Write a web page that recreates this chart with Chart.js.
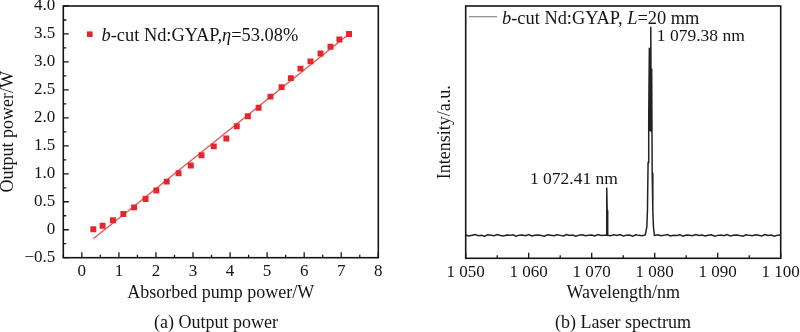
<!DOCTYPE html>
<html>
<head>
<meta charset="utf-8">
<script src="https://cdn.jsdelivr.net/npm/chart.js@4"></script>
<style>
  html, body { margin: 0; padding: 0; background: #fff; }
  #wrap { position: relative; width: 800px; height: 332px; overflow: hidden; }
  canvas { position: absolute; top: 0; }
</style>
</head>
<body>
<div id="wrap">
  <canvas id="ca" width="400" height="332" style="left:0"></canvas>
  <canvas id="cb" width="400" height="332" style="left:400px"></canvas>
</div>
<script>
// ---------- Data: (a) Output power ----------
const pumpPower   = [0.31,0.56,0.84,1.12,1.41,1.72,2.01,2.29,2.61,2.94,3.23,3.56,3.90,4.18,4.48,4.77,5.09,5.39,5.64,5.90,6.17,6.44,6.71,6.95,7.21];
const outputPower = [0.01,0.07,0.17,0.28,0.40,0.55,0.70,0.86,1.01,1.15,1.33,1.49,1.63,1.85,2.03,2.18,2.38,2.55,2.71,2.88,3.01,3.15,3.27,3.40,3.50];
const fitX = [0.31, 7.21];
const fitY = [-0.16, 3.50];
const xTicksA = [0,1,2,3,4,5,6,7,8];
const xTickLabelsA = ['0','1','2','3','4','5','6','7','8'];
const yTicksA = [-0.5,0,0.5,1,1.5,2,2.5,3,3.5,4];
const yTickLabelsA = ['\u22120.5','0','0.5','1.0','1.5','2.0','2.5','3.0','3.5','4.0'];
const xMinorA = [-0.5,0.5,1.5,2.5,3.5,4.5,5.5,6.5,7.5];
const yMinorA = [-0.25,0.25,0.75,1.25,1.75,2.25,2.75,3.25,3.75];

// ---------- Data: (b) Laser spectrum ----------
const wavelength = [
  1050,1050.5,1051,1051.5,1052,1052.5,1053,1053.5,1054,1054.5,1055,1055.5,1056,1056.5,1057,1057.5,1058,1058.5,1059,1059.5,
  1060,1060.5,1061,1061.5,1062,1062.5,1063,1063.5,1064,1064.5,1065,1065.5,1066,1066.5,1067,1067.5,1068,1068.5,1069,1069.5,
  1070,1070.5,1071,1071.5,1072,
  1072.30,1072.36,1072.41,1072.45,1072.50,1072.58,
  1073,1073.5,1074,1074.5,1075,1075.5,1076,1076.5,1077,1077.5,1078,1078.5,
  1078.75,1078.85,1078.95,1079.05,1079.15,1079.22,1079.30,1079.38,1079.44,1079.52,1079.60,1079.70,1079.80,1079.95,
  1080.5,1081,1081.5,1082,1082.5,1083,1083.5,1084,1084.5,1085,1085.5,1086,1086.5,1087,1087.5,1088,1088.5,1089,1089.5,1090,
  1090.5,1091,1091.5,1092,1092.5,1093,1093.5,1094,1094.5,1095,1095.5,1096,1096.5,1097,1097.5,1098,1098.5,1099,1099.5,1100];
const intensity = [
  0.002,-0.003,0.001,0.004,-0.002,0.000,-0.004,0.003,0.001,-0.002,0.004,-0.001,-0.003,0.002,0.000,0.003,-0.004,0.001,0.002,-0.002,
  0.004,-0.003,0.000,0.002,-0.001,-0.004,0.003,0.001,-0.002,0.003,0.000,-0.003,0.004,-0.001,0.002,-0.004,0.001,0.003,-0.002,0.000,
  0.002,-0.003,0.004,-0.001,0.001,
  0.000,0.060,0.230,0.120,0.030,0.000,
  -0.002,0.003,-0.001,0.004,-0.003,0.001,0.002,-0.004,0.003,0.000,-0.002,0.002,
  0.040,0.120,0.350,0.550,0.900,0.500,0.550,1.000,0.500,0.800,0.300,0.120,0.040,0.000,
  0.003,-0.002,0.000,0.004,-0.003,0.001,-0.001,0.003,-0.004,0.002,0.000,-0.002,0.004,-0.001,0.002,-0.003,0.001,0.003,-0.004,0.000,
  0.002,-0.002,0.004,-0.003,0.001,0.002,-0.001,-0.004,0.003,0.000,-0.002,0.003,0.001,-0.003,0.004,-0.001,0.002,-0.004,0.001,0.002];
const xTicksB = [1050,1060,1070,1080,1090,1100];
const xTickLabelsB = ['1 050','1 060','1 070','1 080','1 090','1 100'];
const xMinorB = [1055,1065,1075,1085,1095];
const peakLabels = [
  {wl: 1079.38, text: '1 079.38 nm'},
  {wl: 1072.41, text: '1 072.41 nm'}
];

// ---------- Styling ----------
const SERIF = '"Liberation Serif", "Times New Roman", serif';
const INK = '#151515';
const tickFont = {family: SERIF, size: 17, lineHeight: 1.2};
const titleFont = {family: SERIF, size: 18, lineHeight: 1.2};

function drawRich(ctx, x, y, parts, size) {
  let cx = x;
  parts.forEach(p => {
    ctx.font = (p.i ? 'italic ' : '') + size + 'px ' + SERIF;
    ctx.fillText(p.t, cx, y);
    cx += ctx.measureText(p.t).width;
  });
}

const framePlugin = {
  id: 'frame',
  afterDatasetsDraw(chart, args, o) {
    const {ctx, chartArea: a} = chart;
    const xs = chart.scales.x, ys = chart.scales.y;
    ctx.save();
    ctx.strokeStyle = INK;
    ctx.lineWidth = 1.3;
    ctx.beginPath();
    const tick = (x1, y1, x2, y2) => { ctx.moveTo(x1, y1); ctx.lineTo(x2, y2); };
    (o.xMajor || []).forEach(v => { const p = xs.getPixelForValue(v); tick(p, a.bottom, p, a.bottom - 5.5); });
    (o.xMinor || []).forEach(v => { const p = xs.getPixelForValue(v); tick(p, a.bottom, p, a.bottom - 3); });
    (o.yMajor || []).forEach(v => { const p = ys.getPixelForValue(v); tick(a.left, p, a.left + 5.5, p); });
    (o.yMinor || []).forEach(v => { const p = ys.getPixelForValue(v); tick(a.left, p, a.left + 3, p); });
    ctx.stroke();
    ctx.lineWidth = 1.6;
    ctx.strokeRect(a.left, a.top, a.right - a.left, a.bottom - a.top);
    ctx.restore();
  },
  afterDraw(chart, args, o) {
    const {ctx} = chart;
    ctx.save();
    ctx.fillStyle = INK;
    ctx.textBaseline = 'alphabetic';
    if (o.caption) {
      ctx.font = '18px ' + SERIF;
      ctx.textAlign = 'center';
      ctx.fillText(o.caption.text, o.caption.x, o.caption.y);
    }
    ctx.textAlign = 'left';
    if (o.legend) {
      const L = o.legend;
      if (L.marker === 'rect') {
        ctx.fillStyle = L.color;
        ctx.fillRect(L.mx - 2.8, L.my - 2.8, 5.6, 5.6);
      } else {
        ctx.strokeStyle = L.color; ctx.lineWidth = 1.2;
        ctx.beginPath(); ctx.moveTo(L.mx - 14, L.my); ctx.lineTo(L.mx + 14, L.my); ctx.stroke();
      }
      ctx.fillStyle = INK;
      drawRich(ctx, L.tx, L.ty, L.parts, 18.4);
    }
    if (o.peaks) {
      ctx.font = '17.5px ' + SERIF;
      o.peaks.forEach(p => {
        const px = chart.scales.x.getPixelForValue(p.wl);
        ctx.textAlign = p.align;
        ctx.fillText(p.text, px + p.dx, p.y);
      });
    }
    ctx.restore();
  }
};

// ---------- Chart (a) ----------
new Chart(document.getElementById('ca'), {
  type: 'scatter',
  data: {
    datasets: [
      {
        type: 'line',
        data: fitX.map((x, i) => ({x, y: fitY[i]})),
        borderColor: '#e25454', borderWidth: 1.3, pointRadius: 0, fill: false, order: 2
      },
      {
        data: pumpPower.map((x, i) => ({x, y: outputPower[i]})),
        pointStyle: 'rect', pointRadius: 4.2, pointBackgroundColor: '#e5262c', pointBorderWidth: 0,
        backgroundColor: '#e5262c', borderWidth: 0, order: 1
      }
    ]
  },
  options: {
    responsive: false, animation: false, devicePixelRatio: 1,
    layout: {padding: {left: 0, top: 6, right: 21.7, bottom: 0}},
    plugins: {
      legend: {display: false}, tooltip: {enabled: false},
      frame: {
        xMajor: xTicksA, xMinor: xMinorA, yMajor: yTicksA, yMinor: yMinorA,
        caption: {text: '(a) Output power', x: 216, y: 328},
        legend: {marker: 'rect', color: '#e5262c', mx: 89.8, my: 34.2, tx: 101.5, ty: 40.5,
          parts: [{t: 'b', i: true}, {t: '-cut Nd:GYAP,'}, {t: '\u03b7', i: true}, {t: '=53.08%'}]}
      }
    },
    scales: {
      x: {
        type: 'linear', min: -0.5, max: 8,
        grid: {display: false, drawTicks: false}, border: {display: false},
        afterBuildTicks: ax => { ax.ticks = xTicksA.map(v => ({value: v})); },
        ticks: {font: tickFont, color: INK, padding: 4, maxRotation: 0, autoSkip: false,
          callback: (v) => xTickLabelsA[xTicksA.indexOf(v)]},
        title: {display: true, text: 'Absorbed pump power/W', font: titleFont, color: INK, padding: {top: 0, bottom: 28}},
        afterFit: ax => { ax.height = 74.3; ax.paddingLeft = 0; ax.paddingRight = 0; }
      },
      y: {
        type: 'linear', min: -0.5, max: 4,
        grid: {display: false, drawTicks: false}, border: {display: false},
        afterBuildTicks: ax => { ax.ticks = yTicksA.map(v => ({value: v})); },
        ticks: {font: tickFont, color: INK, padding: 8, autoSkip: false,
          callback: (v) => yTickLabelsA[yTicksA.indexOf(v)]},
        title: {display: true, text: 'Output power/W', font: titleFont, color: INK, padding: {top: -3, bottom: 0}},
        afterFit: ax => { ax.width = 63.3; ax.paddingTop = 0; ax.paddingBottom = 0; }
      }
    }
  },
  plugins: [framePlugin]
});

// ---------- Chart (b) ----------
new Chart(document.getElementById('cb'), {
  type: 'scatter',
  data: {
    datasets: [{
      data: wavelength.map((x, i) => ({x, y: intensity[i]})),
      showLine: true, borderColor: '#222222', borderWidth: 1.5, pointRadius: 0, tension: 0
    }]
  },
  options: {
    responsive: false, animation: false, devicePixelRatio: 1,
    layout: {padding: {left: 0, top: 6, right: 19.3, bottom: 0}},
    plugins: {
      legend: {display: false}, tooltip: {enabled: false},
      frame: {
        xMajor: xTicksB, xMinor: xMinorB,
        caption: {text: '(b) Laser spectrum', x: 223, y: 328},
        legend: {marker: 'line', color: '#8a8a8a', mx: 83, my: 16.7, tx: 102, ty: 23.5,
          parts: [{t: 'b', i: true}, {t: '-cut Nd:GYAP, '}, {t: 'L', i: true}, {t: '=20 mm'}]},
        peaks: [
          {wl: peakLabels[0].wl, text: peakLabels[0].text, align: 'left', dx: 6, y: 40.5},
          {wl: peakLabels[1].wl, text: peakLabels[1].text, align: 'right', dx: 11, y: 184.3}
        ]
      }
    },
    scales: {
      x: {
        type: 'linear', min: 1050, max: 1100,
        grid: {display: false, drawTicks: false}, border: {display: false},
        afterBuildTicks: ax => { ax.ticks = xTicksB.map(v => ({value: v})); },
        ticks: {font: tickFont, color: INK, padding: 4, maxRotation: 0, autoSkip: false,
          callback: (v) => xTickLabelsB[xTicksB.indexOf(v)]},
        title: {display: true, text: 'Wavelength/nm', font: titleFont, color: INK, padding: {top: 0, bottom: 28}},
        afterFit: ax => { ax.height = 73.7; ax.paddingLeft = 0; ax.paddingRight = 0; }
      },
      y: {
        type: 'linear', min: -0.11, max: 1.1,
        grid: {display: false, drawTicks: false}, border: {display: false},
        ticks: {display: false},
        title: {display: true, text: 'Intensity/a.u.', font: titleFont, color: INK, padding: {top: 34, bottom: 0}},
        afterFit: ax => { ax.width = 65.7; ax.paddingTop = 0; ax.paddingBottom = 0; }
      }
    }
  },
  plugins: [framePlugin]
});
</script>
</body>
</html>
